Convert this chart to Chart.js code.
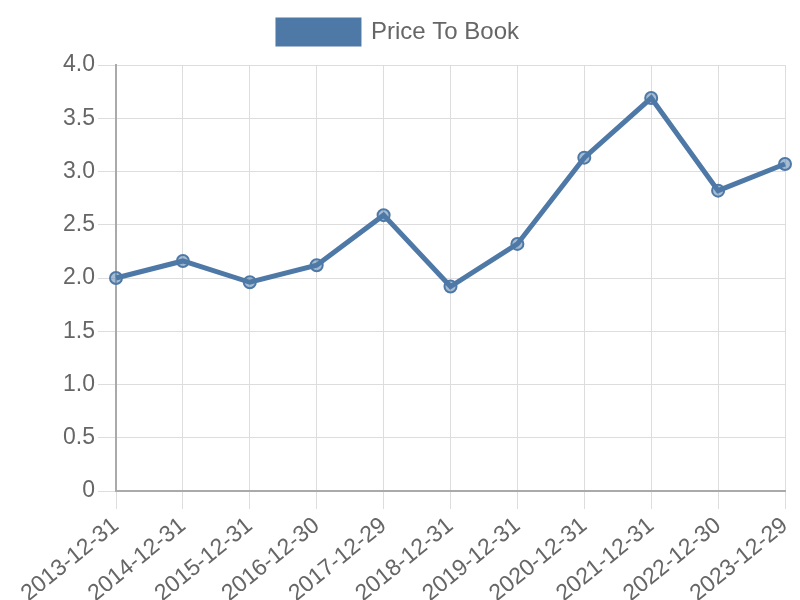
<!DOCTYPE html>
<html>
<head>
<meta charset="utf-8">
<script src="https://cdn.jsdelivr.net/npm/chart.js@4"></script>
<style>
  html, body { margin: 0; padding: 0; background: #fff; }
</style>
</head>
<body>
<canvas id="chart" width="800" height="600"></canvas>
<script>
var labels = ['2013-12-31', '2014-12-31', '2015-12-31', '2016-12-30', '2017-12-29', '2018-12-31',
              '2019-12-31', '2020-12-31', '2021-12-31', '2022-12-30', '2023-12-29'];
var priceToBook = [2.00, 2.16, 1.96, 2.12, 2.59, 1.92, 2.32, 3.13, 3.69, 2.82, 3.07];
var yTicks = [0, 0.5, 1.0, 1.5, 2.0, 2.5, 3.0, 3.5, 4.0];

Chart.defaults.font.family = '"Liberation Sans", Arial, sans-serif';
Chart.defaults.color = '#666';

// a bit more room between legend and plot
var legendGap = {
    id: 'legendGap',
    beforeInit: function (chart) {
        var fit = chart.legend.fit;
        chart.legend.fit = function () {
            fit.bind(chart.legend)();
            this.height += 11;
        };
    }
};

var ctx = document.getElementById('chart').getContext('2d');
var chart1 = new Chart(ctx, {
    type: 'line',
    data: {
        labels: labels,
        datasets: [{
            label: 'Price To Book',
            data: priceToBook,
            borderColor: '#4e79a7',
            backgroundColor: '#4e79a7',
            borderWidth: 5,
            pointRadius: 6,
            pointBorderWidth: 2,
            pointBackgroundColor: 'rgba(78, 121, 167, 0.5)',
            pointBorderColor: '#4e79a7',
            tension: 0,
            fill: false
        }]
    },
    options: {
        responsive: false,
        animation: false,
        layout: { padding: { top: 10, right: 15, left: 12, bottom: 0 } },
        plugins: {
            legend: {
                position: 'top',
                labels: {
                    boxWidth: 81,
                    boxHeight: 24,
                    font: { size: 24 },
                    color: '#666'
                }
            },
            tooltip: { enabled: false }
        },
        scales: {
            x: {
                grid: { color: '#ddd', tickLength: 18 },
                border: { color: '#aaa', width: 2 },
                afterFit: function (axis) {
                    axis.paddingLeft = 0;
                    axis.paddingRight = 0;
                    axis.height = 109;
                },
                ticks: {
                    font: { size: 23 },
                    color: '#666',
                    autoSkip: false,
                    maxRotation: 39,
                    minRotation: 39
                }
            },
            y: {
                min: 0,
                max: 4,
                grid: { color: '#ddd', tickLength: 18 },
                border: { color: '#aaa', width: 2 },
                afterFit: function (axis) {
                    axis.width = 104;
                },
                afterBuildTicks: function (axis) {
                    axis.ticks = yTicks.map(function (v) { return { value: v }; });
                },
                ticks: {
                    font: { size: 23 },
                    color: '#666',
                    callback: function (v) { return v === 0 ? '0' : v.toFixed(1); }
                }
            }
        }
    },
    plugins: [legendGap]
});
</script>
</body>
</html>
